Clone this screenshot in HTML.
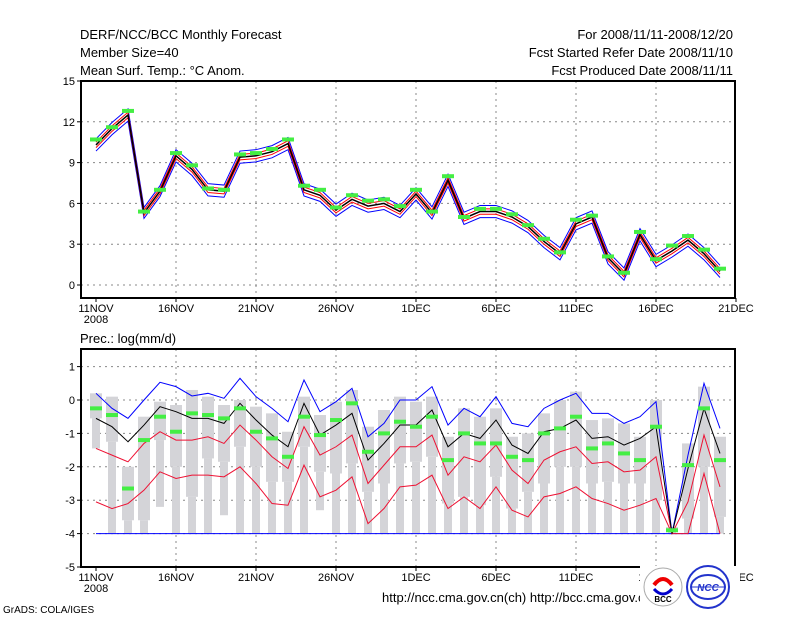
<!DOCTYPE html>
<html><head><meta charset="utf-8">
<style>
body{margin:0;background:#fff;}
svg{display:block;font-family:"Liberation Sans",sans-serif;}
</style></head>
<body>
<svg id="chart" width="800" height="618" viewBox="0 0 800 618" xmlns="http://www.w3.org/2000/svg">
<rect width="800" height="618" fill="#fff"/>
<g font-size="13" fill="#000">
<text x="80" y="39">DERF/NCC/BCC Monthly Forecast</text>
<text x="80" y="57">Member Size=40</text>
<text x="80" y="75">Mean Surf. Temp.: °C Anom.</text>
<text x="733" y="39" text-anchor="end">For 2008/11/11-2008/12/20</text>
<text x="733" y="57" text-anchor="end">Fcst Started Refer Date 2008/11/10</text>
<text x="733" y="75" text-anchor="end">Fcst Produced Date 2008/11/11</text>
<text x="80" y="343">Prec.: log(mm/d)</text>
<text x="3" y="613" font-size="10">GrADS: COLA/IGES</text>
<text x="382" y="602" font-size="13">http://ncc.cma.gov.cn(ch)   http://bcc.cma.gov.cn</text>
</g>
<g id="top"></g>
<g id="bot"></g>
<g>
<rect x="640" y="566" width="100" height="44" fill="#fff"/>
<circle cx="663" cy="587" r="19" fill="#fff" stroke="#aaa"/>
<path d="M654 585 q9 -12 18 0" stroke="#e00" stroke-width="4" fill="none"/>
<path d="M654 589 q9 10 18 0" stroke="#00c" stroke-width="3" fill="none"/>
<text x="663" y="602" font-size="8" text-anchor="middle" font-weight="bold">BCC</text>
<circle cx="708" cy="587" r="21" fill="#fff" stroke="#2233cc" stroke-width="2"/>
<ellipse cx="708" cy="587" rx="17" ry="12" fill="none" stroke="#2233cc" stroke-width="2"/>
<line x1="691" y1="587" x2="725" y2="587" stroke="#2233cc"/>
<text x="708" y="591" font-size="10" fill="#2233cc" text-anchor="middle" font-weight="bold" font-style="italic">NCC</text>
</g>
</svg>
<script>
// ---- top panel data (temperature anomaly) ----
const days = ["11NOV","16NOV","21NOV","26NOV","1DEC","6DEC","11DEC","16DEC","21DEC"];
const tTicks = [0,3,6,9,12,15];
const tMean = [10.3,11.5,12.5,5.3,6.9,9.5,8.5,7.0,6.9,9.4,9.5,9.8,10.4,7.0,6.6,5.5,6.3,5.8,6.0,5.4,6.7,5.3,7.7,4.9,5.4,5.4,5.0,4.3,3.2,2.3,4.5,5.0,2.0,0.8,3.7,1.8,2.5,3.3,2.3,1.0];
const tObs = [10.7,11.6,12.8,5.4,7.0,9.7,8.8,7.1,7.0,9.6,9.7,10.0,10.7,7.3,7.0,5.7,6.6,6.2,6.3,5.8,7.0,5.4,8.0,5.0,5.6,5.6,5.2,4.4,3.4,2.4,4.8,5.1,2.1,0.9,3.9,1.9,2.9,3.6,2.6,1.2];
const tRedSpread = [0.2,0.2,0.2,0.2,0.2,0.2,0.2,0.2,0.2,0.2,0.2,0.2,0.2,0.2,0.2,0.2,0.2,0.2,0.2,0.2,0.2,0.2,0.2,0.2,0.2,0.2,0.2,0.2,0.2,0.2,0.2,0.2,0.2,0.2,0.2,0.2,0.2,0.2,0.2,0.2];
const tBlueSpread = [0.45,0.45,0.45,0.4,0.4,0.45,0.45,0.45,0.45,0.45,0.45,0.45,0.45,0.45,0.45,0.45,0.45,0.45,0.45,0.45,0.45,0.45,0.45,0.45,0.45,0.45,0.45,0.45,0.45,0.45,0.45,0.45,0.45,0.45,0.45,0.45,0.45,0.45,0.45,0.45];
// ---- bottom panel data (precip log) ----
const pTicks = [1,0,-1,-2,-3,-4,-5];
const pBlue = [0.2,-0.25,-0.55,0,0.53,0.4,0.12,0.2,0.05,0.65,0.1,-0.25,-0.65,0.6,-0.35,-0.05,0.35,-1.1,-0.7,0,0,0.4,-0.75,-0.25,-0.5,0.1,-0.7,-0.8,-0.25,0,0.2,-0.4,-0.4,-0.7,-0.5,-0.05,-4,-1.65,0.5,-0.85];
const pMean = [-0.55,-0.8,-1.25,-0.75,-0.2,-0.35,-0.55,-0.55,-0.7,-0.1,-0.6,-1.05,-1.4,-0.1,-1.05,-0.75,-0.4,-1.8,-1.3,-0.75,-0.75,-0.3,-1.4,-1.0,-1.15,-0.6,-1.35,-1.6,-0.95,-0.85,-0.6,-1.15,-1.1,-1.35,-1.15,-0.8,-4,-2.05,-0.25,-1.6];
const pRedHi = [-1.45,-1.65,-1.85,-1.3,-0.95,-1.2,-1.2,-1.1,-1.3,-0.75,-1.2,-1.7,-2.05,-0.8,-1.65,-1.4,-1.05,-2.5,-1.95,-1.4,-1.4,-1.05,-2.25,-1.7,-1.85,-1.35,-2.1,-2.5,-1.8,-1.55,-1.4,-1.9,-1.85,-2.15,-2.1,-1.7,-4,-3.05,-1.05,-2.6];
const pRedLo = [-3.05,-3.25,-3.1,-2.7,-2.15,-2.35,-2.25,-2.25,-2.3,-2.0,-2.5,-3.1,-3.15,-1.95,-2.9,-2.7,-2.3,-3.7,-3.25,-2.6,-2.55,-2.25,-3.25,-2.9,-3.25,-2.6,-3.3,-3.5,-2.9,-2.8,-2.6,-2.95,-3.1,-3.3,-3.15,-2.95,-4,-4,-2.2,-4];
const pObs = [-0.25,-0.45,-2.65,-1.2,-0.5,-0.95,-0.4,-0.45,-0.55,-0.25,-0.95,-1.15,-1.7,-0.5,-1.05,-0.6,-0.1,-1.55,-1.0,-0.65,-0.8,-0.5,-1.8,-1.0,-1.3,-1.3,-1.7,-1.8,-1.0,-0.85,-0.5,-1.45,-1.3,-1.6,-1.8,-0.8,-3.9,-1.95,-0.25,-1.8];
const pBarMax = [0.2,0.1,-2.0,-0.5,-0.05,-0.15,0.3,0.1,-0.15,0,-0.2,-0.4,-0.95,0.1,-0.45,-0.05,0.3,-0.8,-0.3,0.1,-0.05,0.1,-1.1,-0.25,-0.5,-0.25,-1.1,-1.0,-0.4,0,0.25,-0.6,-0.55,-0.7,-1.1,0,-3.8,-1.3,0.4,-1.1];
const pBarQ = [-0.55,-1.25,-3.6,-3.6,-1.2,-2.0,-2.9,-1.75,-1.85,-1.4,-2.0,-2.45,-2.45,-1.4,-2.15,-2.2,-1.9,-2.75,-2.5,-1.9,-1.85,-1.7,-3.1,-2.9,-3.15,-2.3,-3.25,-2.75,-2.5,-2.0,-2.0,-2.5,-2.45,-2.5,-2.5,-3.0,-3.9,-3.55,-2.0,-3.5];
const pBarMin = [-1.45,-4,-4,-4,-3.2,-4,-4,-4,-3.45,-4,-4,-4,-4,-4,-3.3,-4,-4,-4,-4,-4,-4,-4,-4,-4,-4,-4,-4,-4,-4,-4,-4,-4,-4,-4,-4,-4,-4,-4,-4,-4];

const NS = "http://www.w3.org/2000/svg";
function mk(parent, tag, attrs){ const e=document.createElementNS(NS,tag); for(const k in attrs) e.setAttribute(k,attrs[k]); parent.appendChild(e); return e; }
const X0=96, DX=16, L=81, R=735;
const xd = d => X0 + DX*d;
const yT = v => 285 - v*13.6;
const yP = v => 400 - v*33.4;

function axes(g, top, bot, ticks, yf, dataName){
  ticks.forEach(t=>{
    const y=yf(t);
    const gl=mk(g,"line",{x1:L,x2:R,y1:y,y2:y,stroke:"#888","stroke-dasharray":"2,4","stroke-width":1});
    
    
    mk(g,"line",{x1:L-4,x2:L,y1:y,y2:y,stroke:"#000"});
    const tl=mk(g,"text",{x:L-6,y:y+4,"font-size":11,"text-anchor":"end"}); tl.textContent=t;
    
    
  });
  days.forEach((lab,i)=>{
    const x=xd(i*5);
    if(i>0&&i<days.length-1){
      const gl=mk(g,"line",{x1:x,x2:x,y1:top,y2:bot,stroke:"#888","stroke-dasharray":"2,4"});
      
      
    }
    mk(g,"line",{x1:x,x2:x,y1:bot,y2:bot+4,stroke:"#000"});
    const tl=mk(g,"text",{x:x,y:bot+14,"font-size":11,"text-anchor":"middle"}); tl.textContent=lab;
    
    
  });
  const yr=mk(g,"text",{x:xd(0),y:bot+25,"font-size":11,"text-anchor":"middle"}); yr.textContent="2008";
  
  
  const fr=mk(g,"rect",{x:L,y:top,width:R-L,height:bot-top,fill:"none",stroke:"#000","stroke-width":2});
  
  
}
function line(g, arr, yf, color, w, name){
  const p=mk(g,"polyline",{points:arr.map((v,i)=>xd(i)+","+yf(v)).join(" "),fill:"none",stroke:color,"stroke-width":w});
  
  
}
function greens(g, arr, yf){
  arr.forEach((v,i)=>{
    const r=mk(g,"rect",{x:xd(i)-6,y:yf(v)-2,width:12,height:4,fill:"#44ee44"});
    
    
  });
}

// top panel
const gt=document.getElementById("top");
axes(gt,81,298,tTicks,yT,"top-panel-frame");
line(gt,tMean.map((v,i)=>v+tBlueSpread[i]),yT,"#0000ff",1,"temp-blue-upper");
line(gt,tMean.map((v,i)=>v-tBlueSpread[i]),yT,"#0000ff",1,"temp-blue-lower");
line(gt,tMean.map((v,i)=>v+tRedSpread[i]),yT,"#ff0000",1,"temp-red-upper");
line(gt,tMean.map((v,i)=>v-tRedSpread[i]),yT,"#ff0000",1,"temp-red-lower");
line(gt,tMean,yT,"#000",1.5,"temp-mean-line");
greens(gt,tObs,yT);

// bottom panel
const gb=document.getElementById("bot");
axes(gb,349,567,pTicks,yP,"bottom-panel-frame");
pBarMax.forEach((v,i)=>{
  const x=xd(i);
  const thin=mk(gb,"rect",{x:x-4,y:yP(pBarQ[i]),width:8,height:Math.max(0,yP(pBarMin[i])-yP(pBarQ[i])),fill:"#d4d4d8"});
  
  
  const thick=mk(gb,"rect",{x:x-6,y:yP(v),width:12,height:Math.max(0,yP(pBarQ[i])-yP(v)),fill:"#d4d4d8"});
  
  
});
const base=mk(gb,"line",{x1:xd(0),x2:xd(39),y1:yP(-4),y2:yP(-4),stroke:"#0000ff","stroke-width":1});


line(gb,pBlue,yP,"#0000ff",1,"precip-max-line");
line(gb,pRedHi,yP,"#ee1133",1,"precip-red-upper");
line(gb,pRedLo,yP,"#ee1133",1,"precip-red-lower");
line(gb,pMean,yP,"#000",1,"precip-mean-line");
greens(gb,pObs,yP);
</script>
</body></html>
